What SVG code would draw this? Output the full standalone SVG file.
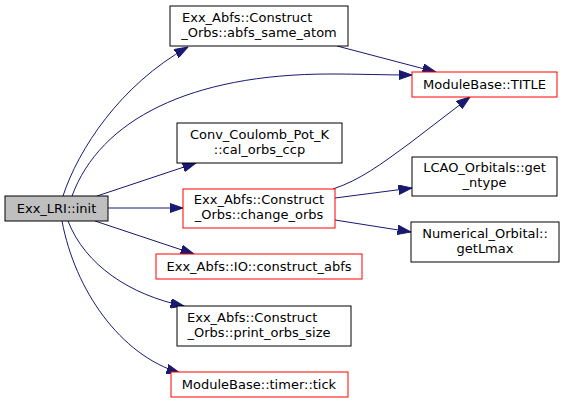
<svg xmlns="http://www.w3.org/2000/svg" width="564" height="403" viewBox="0 0 564 403">
<style>
.n rect{fill:#ffffff;stroke:#000000;stroke-width:1}
.n.r rect{stroke:#ff0000}
.n.root rect{fill:#bfbfbf}
text{font-family:"DejaVu Sans","Liberation Sans",sans-serif;font-size:13px;fill:#000000}
.m{text-anchor:middle}
.s{text-anchor:start}
.e path{fill:none;stroke:#191970;stroke-width:1;marker-end:url(#ah)}
</style>
<defs>
<marker id="ah" markerUnits="userSpaceOnUse" markerWidth="14" markerHeight="10" viewBox="0 0 14 10" refX="13.5" refY="5" orient="auto">
<path d="M0,0.3 L13.5,5 L0,9.7 z" fill="#191970" stroke="#191970" stroke-width="1"/>
</marker>
</defs>
<rect width="564" height="403" fill="#ffffff"/>
<g id="edges" class="e">
<path d="M63,196 C78,150 120,85 188,47"/>
<path d="M72,196 C100,120 190,74 330,74 C360,74 385,75 412,75"/>
<path d="M337,46 L436,72"/>
<path d="M97,196 L196,163"/>
<path d="M108,208 L183,208"/>
<path d="M95,221 L194,254"/>
<path d="M68,221 C85,265 130,295 184,306"/>
<path d="M62,221 C75,290 120,355 180,373"/>
<path d="M333,189 C360,180 380,165 410,143 C430,128 450,112 470,97"/>
<path d="M335,198 L412,188"/>
<path d="M335,220 L411,232"/>
</g>
<g id="node_init" class="n root">
<rect x="5" y="196" width="103" height="25"/>
<text class="m" x="56.5" y="213">Exx_LRI::init</text>
</g>
<g id="node_abfs_same_atom" class="n">
<rect x="170" y="6" width="178" height="40"/>
<text class="s" x="182" y="22">Exx_Abfs::Construct</text>
<text class="m" x="259" y="37">_Orbs::abfs_same_atom</text>
</g>
<g id="node_title" class="n r">
<rect x="412" y="72" width="145" height="25"/>
<text class="m" x="484.5" y="89">ModuleBase::TITLE</text>
</g>
<g id="node_cal_orbs_ccp" class="n">
<rect x="177" y="123" width="165" height="40"/>
<text class="m" x="259.5" y="138.5">Conv_Coulomb_Pot_K</text>
<text class="m" x="259.5" y="153.5">::cal_orbs_ccp</text>
</g>
<g id="node_change_orbs" class="n r">
<rect x="183" y="189" width="152" height="39"/>
<text class="m" x="259" y="204">Exx_Abfs::Construct</text>
<text class="m" x="259" y="219">_Orbs::change_orbs</text>
</g>
<g id="node_get_ntype" class="n">
<rect x="412" y="157" width="145" height="39"/>
<text class="m" x="484.5" y="172">LCAO_Orbitals::get</text>
<text class="m" x="484.5" y="187">_ntype</text>
</g>
<g id="node_getLmax" class="n">
<rect x="411" y="222" width="148" height="40"/>
<text class="m" x="485" y="237.5">Numerical_Orbital::</text>
<text class="m" x="485" y="252.5">getLmax</text>
</g>
<g id="node_construct_abfs" class="n r">
<rect x="156" y="254" width="206" height="25"/>
<text class="m" x="259" y="271">Exx_Abfs::IO::construct_abfs</text>
</g>
<g id="node_print_orbs_size" class="n">
<rect x="177" y="306" width="174" height="40"/>
<text class="s" x="187" y="321.5">Exx_Abfs::Construct</text>
<text class="m" x="259" y="336.5">_Orbs::print_orbs_size</text>
</g>
<g id="node_tick" class="n r">
<rect x="171" y="372" width="177" height="25"/>
<text class="m" x="259" y="389">ModuleBase::timer::tick</text>
</g>
</svg>
